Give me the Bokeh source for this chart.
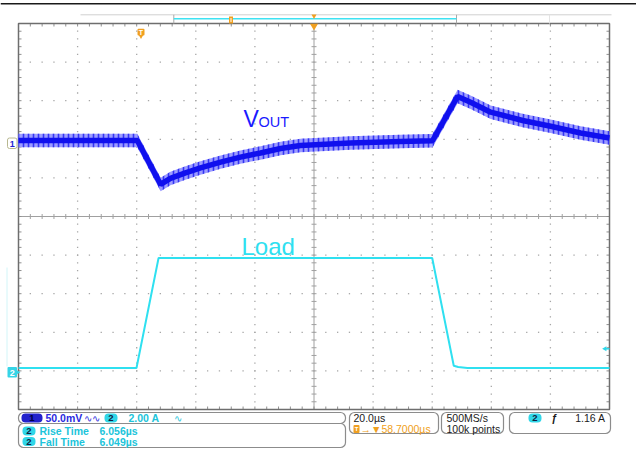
import numpy as np
from bokeh.plotting import figure
from bokeh.models import Range1d, ColumnDataSource
from bokeh.core.properties import value
from bokeh.embed import file_html
from bokeh.resources import INLINE

# ---------------- scope settings ----------------
time_per_div_us = 20.0
horiz_center_us = 58.7
ch1_scale_mV = 50.0
ch1_pos_div = 1.9
ch2_scale_A = 2.0
ch2_pos_div = -4.0
trig_level_A = 1.16

# ---------------- data ----------------
vout_t_us = [-41.3, -1.1, 6.8, 10.1, 15.2, 20.3, 27.1, 33.8, 40.6, 47.4, 54.1,
             71.0, 87.9, 98.8, 107.3, 111.7, 118.5, 129.3, 138.8, 148.9, 158.7]
vout_mV = [3.5, 3.5, -53.5, -45.7, -38.6, -32.1, -24.6, -18.1, -12.7, -6.9, -3.0,
           0.3, 2.2, 3.1, 60.5, 53.1, 40.1, 29.4, 21.9, 13.2, 6.7]
vout_ripple_mV = 8.7          # half height of the switching-ripple band

load_t_us = [-41.3, -1.37, 6.1, 98.7, 106.0, 107.5, 110.6, 158.7]
load_A = [0.15, 0.15, 5.85, 5.85, 0.27, 0.2, 0.15, 0.15]

ch1_text = "50.0mV"
ch2_text = "2.00 A"
rise_label, rise_value = "Rise Time", "6.056µs"
fall_label, fall_value = "Fall Time", "6.049µs"
timebase_text = "20.0µs"
position_text = "→▼58.7000µs"
rate_text, points_text = "500MS/s", "100k points"
trig_text = "1.16 A"

# ---------------- layout (page pixels) ----------------
W, H = 636, 449
GX0, GX1, GY0, GY1 = 18.0, 609.0, 23.0, 409.0
DX = (GX1 - GX0) / 10.0
DY = (GY1 - GY0) / 10.0
CX = (GX0 + GX1) / 2.0
CY = (GY0 + GY1) / 2.0


def X(px):
    return (px - CX) / DX


def Y(py):
    return (CY - py) / DY


xs, xe = X(0), X(W)
ys, ye = Y(H), Y(0)

p = figure(width=W, height=H, x_range=Range1d(xs, xe), y_range=Range1d(ys, ye),
           x_axis_type=None, y_axis_type=None, output_backend="svg",
           toolbar_location=None, min_border=0, outline_line_color=None,
           background_fill_color="white", border_fill_color="white")
p.extra_x_ranges = {"time": Range1d(horiz_center_us + xs * time_per_div_us,
                                    horiz_center_us + xe * time_per_div_us)}
p.extra_y_ranges = {"vout": Range1d((ys - ch1_pos_div) * ch1_scale_mV, (ye - ch1_pos_div) * ch1_scale_mV),
                    "load": Range1d((ys - ch2_pos_div) * ch2_scale_A, (ye - ch2_pos_div) * ch2_scale_A)}

# top frame line of the screen capture
p.segment(x0=[X(0)], y0=[Y(3.3)], x1=[X(636)], y1=[Y(3.3)], line_color="#1a1a1a", line_width=1.6)

# ---------------- graticule ----------------
minor = np.round(np.arange(-5, 5.0001, 0.2), 6)
inner = minor[1:-1]
dots_x, dots_y = [], []
for i in [-4, -3, -2, -1, 1, 2, 3, 4]:
    for m in inner:
        dots_x.append(m); dots_y.append(i)
        dots_x.append(i); dots_y.append(m)
p.rect(dots_x, dots_y, width=1.3, height=1.3, width_units="screen", height_units="screen",
       fill_color="#a6a6a6", line_color=None)

# center cross
p.segment(x0=[-5, 0], y0=[0, -5], x1=[5, 0], y1=[0, 5], line_color="#a0a0a0", line_width=1)
tx = 2.5 / DX
ty = 2.5 / DY
p.segment(x0=list(inner), y0=[-ty] * len(inner), x1=list(inner), y1=[ty] * len(inner),
          line_color="#a0a0a0", line_width=1)
p.segment(x0=[-tx] * len(inner), y0=list(inner), x1=[tx] * len(inner), y1=list(inner),
          line_color="#a0a0a0", line_width=1)
# border ticks
bt = 3.0
p.segment(x0=list(inner), y0=[5] * len(inner), x1=list(inner), y1=[5 - bt / DY] * len(inner),
          line_color="#909090", line_width=1)
p.segment(x0=list(inner), y0=[-5] * len(inner), x1=list(inner), y1=[-5 + bt / DY] * len(inner),
          line_color="#909090", line_width=1)
p.segment(x0=[-5] * len(inner), y0=list(inner), x1=[-5 + bt / DX] * len(inner), y1=list(inner),
          line_color="#909090", line_width=1)
p.segment(x0=[5] * len(inner), y0=list(inner), x1=[5 - bt / DX] * len(inner), y1=list(inner),
          line_color="#909090", line_width=1)
p.quad(left=[-5], right=[5], bottom=[-5], top=[5], fill_color=None,
       line_color="#6e6e6e", line_width=1.5)

# ---------------- traces ----------------
vt = np.array(vout_t_us)
vv = np.array(vout_mV)
vsrc = ColumnDataSource(dict(t=vt, v=vv, lo=vv - vout_ripple_mV, hi=vv + vout_ripple_mV))
p.varea(x="t", y1="lo", y2="hi", source=vsrc, x_range_name="time", y_range_name="vout",
        fill_color="#9c9cff", hatch_pattern="vertical_line", hatch_color="#3434f4",
        hatch_scale=5, hatch_weight=1.6)
p.line("t", "v", source=vsrc, x_range_name="time", y_range_name="vout",
       line_color="#1010ee", line_width=5.5)

lsrc = ColumnDataSource(dict(t=load_t_us, a=load_A))
p.line("t", "a", source=lsrc, x_range_name="time", y_range_name="load",
       line_color="#2fe0f0", line_width=2)


def txt(x, y, s, color, size=10.5, align="left", baseline="middle", style="normal",
        font="Liberation Sans"):
    p.text(x=[x], y=[y], text=[s], text_color=color, text_font=value(font),
           text_font_size=value(f"{size}px"), text_align=align, text_baseline=baseline,
           text_font_style=style)


# trace labels
txt(X(243), Y(118.5), "V", "#1a1aff", size=23, baseline="alphabetic")
txt(X(258), Y(121.5), "OUT", "#1a1aff", size=14.5, baseline="alphabetic")
txt(X(241), Y(246), "Load", "#2ee0f0", size=24, baseline="alphabetic")

# ---------------- markers ----------------
# channel 1 ground marker
p.quad(left=[X(7)], right=[X(16.5)], bottom=[Y(148)], top=[Y(137.5)], fill_color="white",
       line_color="#b8b890", line_width=1, border_radius=2)
txt(X(11.8), Y(143), "1", "#2020d0", size=9, align="center", style="bold")
# channel 2 ground marker (with faint offset line)
p.segment(x0=[X(6.5)], y0=[Y(267)], x1=[X(6.5)], y1=[Y(366)], line_color="#d2f5f8", line_width=1)
p.quad(left=[X(7)], right=[X(16.5)], bottom=[Y(377)], top=[Y(366.5)], fill_color="#36d4e6",
       line_color=None, border_radius=1)
p.scatter(x=[X(17)], y=[Y(371.7)], marker="triangle", size=5, angle=-np.pi / 2,
          fill_color="#36d4e6", line_color=None)
txt(X(11.8), Y(372), "2", "white", size=9, align="center", style="bold")
# trigger level arrow (right)
p.segment(x0=[X(604)], y0=[Y(348.3)], x1=[X(609)], y1=[Y(348.3)], line_color="#2fd8ea", line_width=1.5)
p.scatter(x=[X(604.5)], y=[Y(348.3)], marker="triangle", size=5, angle=np.pi / 2,
          fill_color="#2fd8ea", line_color=None)
# trigger position marker
p.quad(left=[X(137)], right=[X(144)], bottom=[Y(35)], top=[Y(28.3)], fill_color="#f0a020",
       line_color=None, border_radius=1)
p.scatter(x=[X(140.5)], y=[Y(35.5)], marker="inverted_triangle", size=5, fill_color="#f0a020",
          line_color=None)
txt(X(140.5), Y(31.8), "T", "white", size=7, align="center", style="bold")

# record view bar on top
p.segment(x0=[X(80)], y0=[Y(14.3)], x1=[X(611)], y1=[Y(14.3)], line_color="#d0d0d0", line_width=1)
p.segment(x0=[X(173.3), X(456)], y0=[Y(14.3)] * 2, x1=[X(173.3), X(456)], y1=[Y(23)] * 2,
          line_color="#a8a8a8", line_width=1)
p.segment(x0=[X(549)], y0=[Y(14.3)], x1=[X(549)], y1=[Y(23)], line_color="#e4e4e4", line_width=1)
p.segment(x0=[X(173.3)], y0=[Y(18.3)], x1=[X(456)], y1=[Y(18.3)], line_color="#3ee2f2", line_width=1.5)
p.quad(left=[X(228.5)], right=[X(232.5)], bottom=[Y(23)], top=[Y(16)], fill_color="#f0a020",
       line_color=None)
p.segment(x0=[X(230.5)], y0=[Y(17.5)], x1=[X(230.5)], y1=[Y(21.5)], line_color="white", line_width=1)
p.scatter(x=[X(313.5)], y=[Y(15.5)], marker="inverted_triangle", size=5, fill_color="#f0a020",
          line_color=None)
p.scatter(x=[X(313.5)], y=[Y(25.5)], marker="inverted_triangle", size=8, fill_color="#f0a020",
          line_color=None)

# ---------------- status boxes ----------------
def box(x0, x1, y0, y1):
    p.quad(left=[X(x0)], right=[X(x1)], bottom=[Y(y1)], top=[Y(y0)], fill_color=None,
           line_color="#8c8c8c", line_width=1.2, border_radius=5)


def badge(x0, x1, yc, h, fill, label, label_color):
    p.quad(left=[X(x0)], right=[X(x1)], bottom=[Y(yc + h / 2)], top=[Y(yc - h / 2)],
           fill_color=fill, line_color=None, border_radius=int(h // 2))
    txt(X((x0 + x1) / 2), Y(yc), label, label_color, size=9.5, align="center", style="bold")


box(18, 345, 412, 423)
box(18, 345, 423, 447)
box(349, 438, 412, 433)
box(441, 503, 412, 433)
box(509, 610, 412, 433)

blue_t = "#2a2ae0"
cyan_t = "#20c4da"
orange_t = "#f0a020"
black_t = "#1a1a1a"

r1, r2, r3, b1, b2 = 417.5, 430.5, 441.0, 417.5, 428.5
badge(21, 42, r1, 9, "#2222cc", "1", "#000040")
txt(X(45), Y(r1), ch1_text, blue_t, style="bold")
txt(X(83), Y(r1), "∿∿", blue_t, size=10)
badge(104, 117, r1, 9, "#30d6e8", "2", "#102040")
txt(X(128), Y(r1), ch2_text, cyan_t, style="bold")
txt(X(173), Y(r1), "∿", cyan_t, size=10)

badge(22, 35, r2, 9, "#30d6e8", "2", "#102040")
txt(X(39), Y(r2), rise_label, cyan_t, style="bold")
txt(X(99), Y(r2), rise_value, cyan_t, style="bold")
badge(22, 35, r3, 9, "#30d6e8", "2", "#102040")
txt(X(39), Y(r3), fall_label, cyan_t, style="bold")
txt(X(99), Y(r3), fall_value, cyan_t, style="bold")

txt(X(353), Y(b1), timebase_text, black_t)
p.quad(left=[X(353)], right=[X(359)], bottom=[Y(b2 + 4)], top=[Y(b2 - 4)], fill_color=orange_t,
       line_color=None, border_radius=1)
txt(X(356), Y(b2), "T", "white", size=6, align="center", style="bold")
txt(X(360), Y(b2), position_text, orange_t)

txt(X(446), Y(b1), rate_text, black_t)
txt(X(446), Y(b2), points_text, black_t)

badge(528, 541, b1, 9, "#30d6e8", "2", "#102040")
txt(X(551), Y(b1), "ƒ", black_t, style="bold")
txt(X(605), Y(b1), trig_text, black_t, align="right")

open("out.html", "w").write(file_html(p, INLINE, "scope"))
